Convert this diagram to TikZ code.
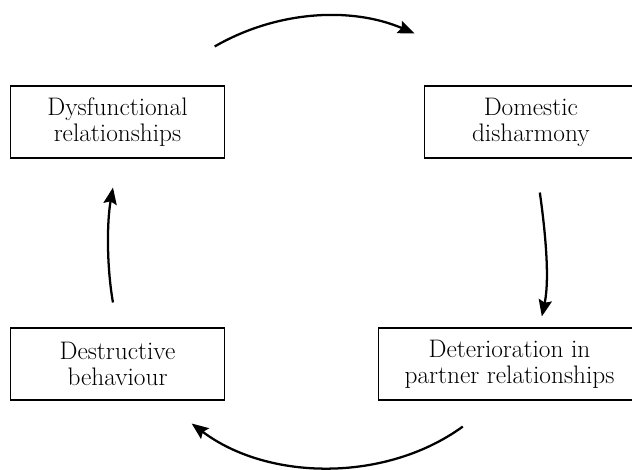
\documentclass[tikz,border=0pt]{standalone}
\usetikzlibrary{arrows.meta,positioning}

\begin{document}
\begin{tikzpicture}[x=0.75pt, y=0.75pt,
    cyclebox/.style={draw, rectangle, line width=0.8pt, minimum width=160pt, minimum height=54pt,
      inner xsep=9pt, align=center, font=\fontsize{19}{19.5}\selectfont},
    cyclearrow/.style={line width=1.7pt, -{Stealth[length=12.5pt, width=10pt, inset=2pt]}, looseness=0.9}]
      \useasboundingbox (0,0) rectangle (632,469);

      % Nodes
      \node[cyclebox] (dysf) at (117.5,347) {Dysfunctional\\relationships};
      \node[cyclebox, right of=dysf, node distance=310pt] (domestic) {Domestic\\disharmony};
      \node[cyclebox, below of=dysf, node distance=181.5pt] (destructive) {Destructive\\behaviour};
      \node[cyclebox, minimum width=196pt, below of=domestic, node distance=181.5pt, xshift=-16pt] (deterioration) {Deterioration in\\partner relationships};

      % Arrows
      \draw[cyclearrow] ([xshift=-7.5pt, yshift=29.25pt]dysf.north east) to[out=30, in=157] ([xshift=-6.75pt, yshift=39pt]domestic.north west);
      \draw[cyclearrow, looseness=0.8] ([xshift=6.75pt, yshift=-25.5pt]domestic.south) to[out=-82, in=78] ([xshift=24.25pt, yshift=8.25pt]deterioration.north);
      \draw[cyclearrow] ([xshift=-35pt, yshift=-19.5pt]deterioration.south) to[out=216, in=-37] ([xshift=-24.75pt, yshift=-17.25pt]destructive.south east);
      \draw[cyclearrow, looseness=0.8] ([xshift=-3.4pt, yshift=18.75pt]destructive.north) to[out=100, in=-100] ([xshift=-3.4pt, yshift=-21.75pt]dysf.south);
    \end{tikzpicture}
\end{document}
